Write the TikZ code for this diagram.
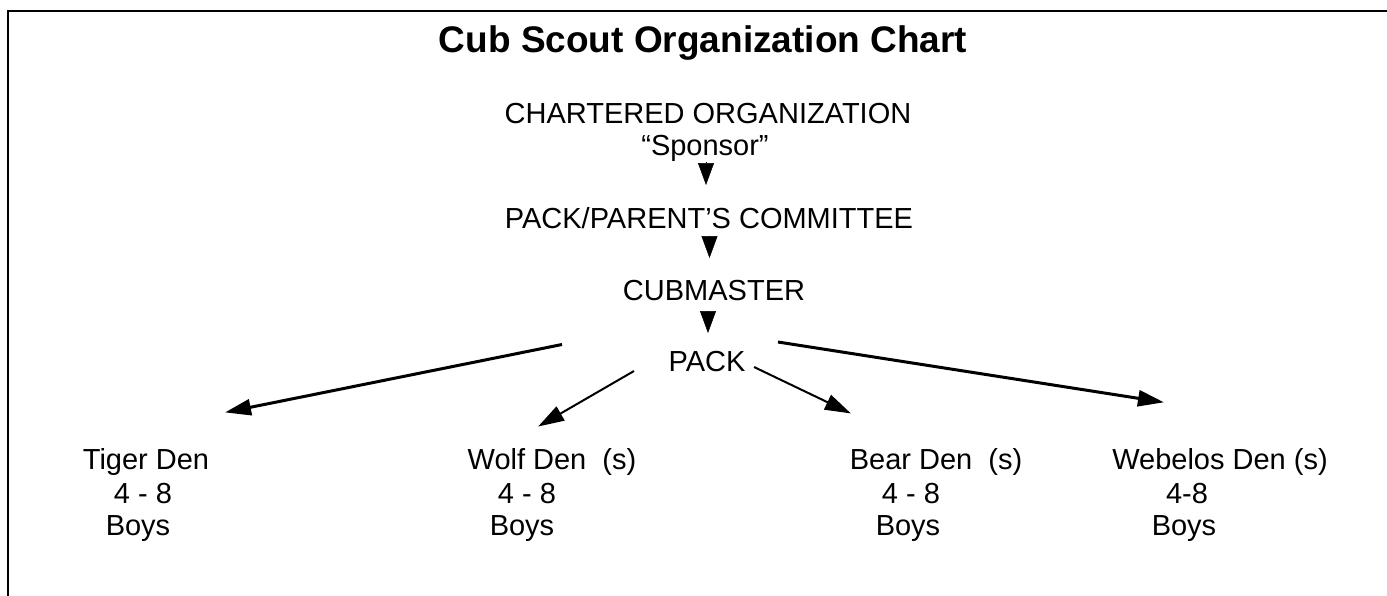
\documentclass[tikz,border=0pt]{standalone}
\usepackage{fontspec}
\setmainfont{Liberation Sans}
\usetikzlibrary{arrows.meta}
\tikzset{
  txt/.style={inner sep=0pt, anchor=base, font=\fontsize{29}{33}\selectfont},
  ttl/.style={inner sep=0pt, anchor=base, font=\fontsize{37}{40}\selectfont\bfseries},
  down/.style={-{Triangle[length=22pt,width=16pt]}, line width=0.5pt},
  thickarr/.style={-{Triangle[length=26pt,width=16pt]}, line width=3pt, shorten >=-2pt},
  thinarr/.style={-{Triangle[length=26pt,width=16pt]}, line width=2pt, shorten >=-1pt},
  frame/.style={line width=2pt}
}
\begin{document}
\begin{tikzpicture}[x=1pt,y=-1pt]
\useasboundingbox (0,0) rectangle (1387,595);
\fill[white] (0,0) rectangle (1387,595);
\draw[frame] (8,600) -- (8,11) -- (1392,11);

\node[ttl] (title) at (703,52) {Cub Scout Organization Chart};

\node[txt] (co) at (708,123) {CHARTERED ORGANIZATION};
\node[txt] (sp) at (705,155) {“Sponsor”};
\node[txt] (pp) at (709,228) {PACK/PARENT’S COMMITTEE};
\node[txt] (cm) at (714,300) {CUBMASTER};
\node[txt] (pk) at (707,371) {PACK};

\coordinate (a1s) at (706,162); \coordinate (a1e) at (706,185);
\coordinate (a2s) at (709.5,237); \coordinate (a2e) at (709.5,258);
\coordinate (a3s) at (708,312); \coordinate (a3e) at (708,333);
\draw[down] (a1s) -- (a1e);
\draw[down] (a2s) -- (a2e);
\draw[down] (a3s) -- (a3e);

% dens
\node[txt] (tg) at (146,469) {Tiger Den};
\node[txt] (tg2) at (143,503) {4 - 8};
\node[txt] (tg3) at (138,535) {Boys};

\node[txt] (wf) at (552,469) {Wolf Den\ \ (s)};
\node[txt] (wf2) at (527,503) {4 - 8};
\node[txt] (wf3) at (522,535) {Boys};

\node[txt] (br) at (936,469) {Bear Den\ \ (s)};
\node[txt] (br2) at (911,503) {4 - 8};
\node[txt] (br3) at (908,535) {Boys};

\node[txt] (wb) at (1220,469) {Webelos Den (s)};
\node[txt] (wb2) at (1187,503) {4-8};
\node[txt] (wb3) at (1184,535) {Boys};

\coordinate (tgS) at (562,344.5); \coordinate (tgE) at (227,412);
\coordinate (wfS) at (634,371); \coordinate (wfE) at (539,426);
\coordinate (brS) at (754,367); \coordinate (brE) at (850,413);
\coordinate (wbS) at (778,342); \coordinate (wbE) at (1162,402);
\draw[thickarr] (tgS) -- (tgE);
\draw[thinarr] (wfS) -- (wfE);
\draw[thinarr] (brS) -- (brE);
\draw[thickarr] (wbS) -- (wbE);
\end{tikzpicture}
\end{document}
